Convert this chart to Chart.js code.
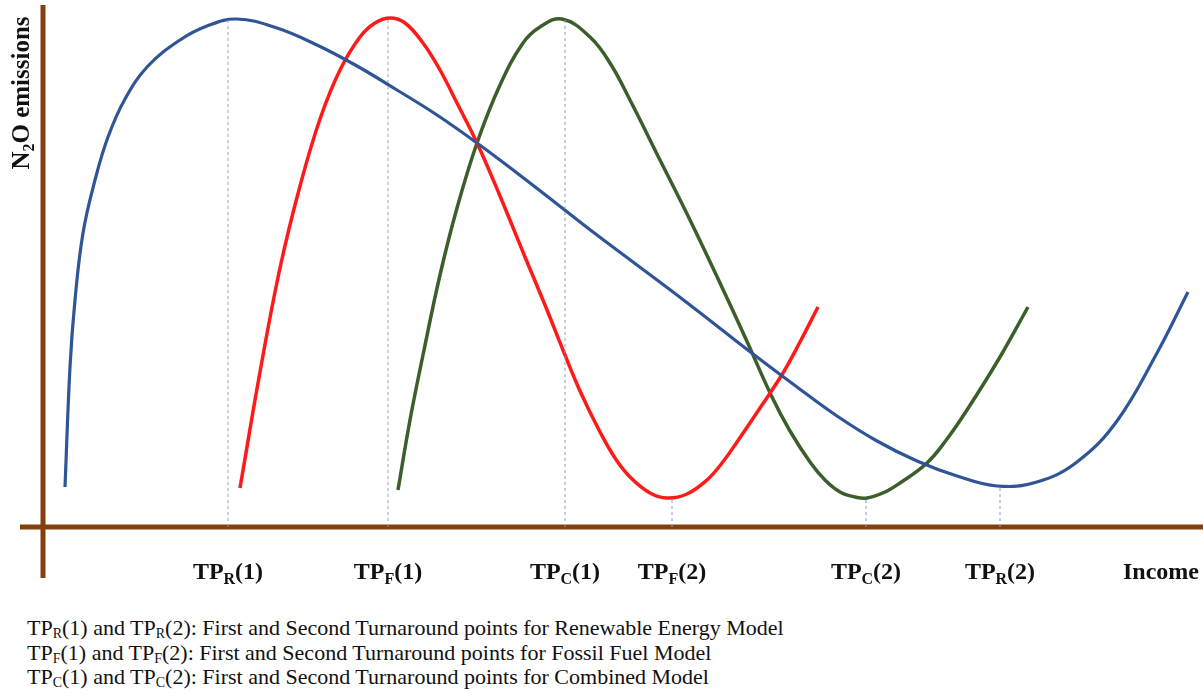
<!DOCTYPE html>
<html lang="en">
  <head>
    <meta charset="UTF-8" />
    <title>N2O emissions - turnaround points</title>
    <style>
      body { margin: 0; background: #fff; }
      .wrap { position: relative; width: 1203px; height: 692px; }
      .chart { position: absolute; left: 0; top: 0; width: 1203px; height: 600px; }
      .notes {
        position: absolute; left: 27px; top: 616px;
        font-family: 'Liberation Serif', serif; font-size: 22px; line-height: 24.5px; color: #111;
      }
      .notes sub { font-size: 14px; vertical-align: -3px; line-height: 0; }
    </style>
  </head>
  <body>
    <div class="wrap">
      <div class="chart"><canvas id="myChart"></canvas></div>
      <div class="notes">
        <div>TP<sub>R</sub>(1) and TP<sub>R</sub>(2): First and Second Turnaround points for Renewable Energy Model</div>
        <div>TP<sub>F</sub>(1) and TP<sub>F</sub>(2): First and Second Turnaround points for Fossil Fuel Model</div>
        <div>TP<sub>C</sub>(1) and TP<sub>C</sub>(2): First and Second Turnaround points for Combined Model</div>
      </div>
    </div>
    <script src="https://cdn.jsdelivr.net/npm/chart.js@4"></script>
    <script>
      // income (x) and emissions (y)
      const renewableX = [22, 27, 32, 40, 52, 65, 82, 105, 137, 164, 194, 234, 274, 314, 354, 394, 434, 474, 514, 554, 594, 634, 674, 714, 754, 794, 834, 874, 914, 954, 994, 1034, 1074, 1114, 1145];
      const renewableY = [40, 160, 227, 294, 347, 390, 428, 461, 487, 501, 508, 499, 482, 461, 437, 412, 384, 354, 323, 292, 262, 232, 201, 170, 140, 111, 86, 66, 51, 41, 45, 65, 106, 174, 235];

      const fossilX = [197, 217, 237, 257, 277, 297, 317, 332, 347, 362, 380, 397, 414, 434, 457, 482, 502, 520, 537, 557, 572, 587, 607, 624, 644, 664, 679, 694, 717, 740, 757, 775];
      const fossilY = [39, 155, 259, 341, 408, 457, 490, 504, 509, 504, 484, 457, 424, 384, 331, 270, 222, 177, 136, 95, 69, 50, 34, 29, 33, 47, 64, 85, 119, 154, 185, 220];

      const combinedX = [355, 367, 380, 397, 414, 434, 457, 480, 497, 519, 547, 567, 587, 617, 647, 677, 702, 729, 747, 767, 782, 797, 812, 824, 842, 857, 884, 904, 924, 957, 985];
      const combinedY = [37, 107, 172, 252, 319, 384, 442, 484, 500, 508, 490, 464, 427, 367, 307, 244, 190, 130, 96, 65, 47, 35, 30, 29, 35, 44, 64, 88, 117, 170, 220];

      // turnaround points: position on income axis and height of the curve there
      const tpX = [185, 345, 522, 629, 823, 957];
      const tpTop = [507, 509, 508, 29, 29, 41];
      const tpSub = ['R', 'F', 'C', 'F', 'C', 'R'];
      const tpNum = ['(1)', '(1)', '(1)', '(2)', '(2)', '(2)'];
      const incomeX = 1118;

      const brown = '#843f0f';
      const serif = "'Liberation Serif', 'DejaVu Serif', serif";

      const toPoints = (xs, ys) => xs.map((x, i) => ({ x: x, y: ys[i] }));

      const curve = (label, xs, ys, color, width) => ({
        label: label,
        data: toPoints(xs, ys),
        borderColor: color,
        borderWidth: width,
        pointRadius: 0,
        tension: 0.4,
        fill: false,
      });

      const guides = tpX.map((x, i) => ({
        label: 'guide' + i,
        data: [{ x: x, y: 0 }, { x: x, y: tpTop[i] }],
        borderColor: '#8ea0c4',
        borderWidth: 1,
        borderDash: [3, 3],
        pointRadius: 0,
      }));

      // brown axes, subscripted tick labels and axis title
      const decor = {
        id: 'decor',
        beforeDatasetsDraw(chart) {
          const { ctx, chartArea: a } = chart;
          ctx.save();
          ctx.strokeStyle = brown;
          ctx.lineWidth = 5;
          ctx.beginPath();
          ctx.moveTo(a.left, a.top);
          ctx.lineTo(a.left, a.bottom + 51);
          ctx.moveTo(a.left - 23, a.bottom);
          ctx.lineTo(a.right, a.bottom);
          ctx.stroke();
          ctx.restore();
        },
        afterDraw(chart) {
          const { ctx, chartArea: a } = chart;
          const xs = chart.scales.x;
          const ty = a.bottom + 52;
          ctx.save();
          ctx.fillStyle = '#111';
          ctx.textBaseline = 'alphabetic';
          const big = 'bold 24px ' + serif;
          const small = 'bold 16px ' + serif;
          tpX.forEach((x, i) => {
            ctx.font = big;
            const w1 = ctx.measureText('TP').width;
            const w3 = ctx.measureText(tpNum[i]).width;
            ctx.font = small;
            const w2 = ctx.measureText(tpSub[i]).width;
            let px = xs.getPixelForValue(x) - (w1 + w2 + w3) / 2;
            ctx.font = big;
            ctx.fillText('TP', px, ty);
            px += w1;
            ctx.font = small;
            ctx.fillText(tpSub[i], px, ty + 5);
            px += w2;
            ctx.font = big;
            ctx.fillText(tpNum[i], px, ty);
          });
          ctx.font = big;
          ctx.textAlign = 'center';
          ctx.fillText('Income', xs.getPixelForValue(incomeX), ty);

          // rotated y title
          ctx.translate(29, 93);
          ctx.rotate(-Math.PI / 2);
          ctx.textAlign = 'left';
          const f1 = 'bold 25px ' + serif;
          const f2 = 'bold 16px ' + serif;
          ctx.font = f1;
          const n = ctx.measureText('N').width;
          const rest = ctx.measureText('O emissions').width;
          ctx.font = f2;
          const two = ctx.measureText('2').width;
          let p = -(n + two + rest) / 2;
          ctx.font = f1;
          ctx.fillText('N', p, 0);
          p += n;
          ctx.font = f2;
          ctx.fillText('2', p, 5);
          p += two;
          ctx.font = f1;
          ctx.fillText('O emissions', p, 0);
          ctx.restore();
        },
      };

      const config = {
        type: 'line',
        data: {
          datasets: [
            ...guides,
            curve('Renewable Energy Model', renewableX, renewableY, '#2f5597', 3.2),
            curve('Fossil Fuel Model', fossilX, fossilY, '#ff1a1a', 3.5),
            curve('Combined Model', combinedX, combinedY, '#3b5f2a', 3.5),
          ],
        },
        options: {
          animation: { duration: 0 },
          responsive: true,
          maintainAspectRatio: false,
          layout: { padding: { left: 43, right: 0, top: 5, bottom: 73 } },
          plugins: {
            legend: { display: false },
            tooltip: { enabled: false },
          },
          scales: {
            x: { type: 'linear', min: 0, max: 1160, display: false },
            y: { type: 'linear', min: 0, max: 522, display: false },
          },
        },
        plugins: [decor],
      };

      new Chart(document.getElementById('myChart'), config);
    </script>
  </body>
</html>
